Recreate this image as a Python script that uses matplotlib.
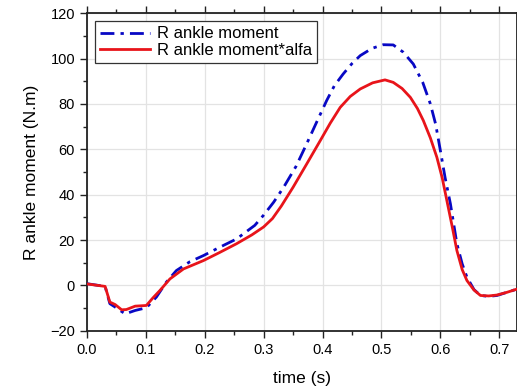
import numpy as np
import matplotlib
matplotlib.use("Agg")
import matplotlib.pyplot as plt
from matplotlib.ticker import MultipleLocator

plt.rcParams['font.family'] = ['Liberation Sans', 'DejaVu Sans']

# R ankle moment (blue dash-dot)
t_blue = [0.0, 0.031, 0.039, 0.048, 0.065, 0.082, 0.101, 0.118, 0.135, 0.152, 0.175,
          0.198, 0.225, 0.254, 0.285, 0.30, 0.317, 0.334, 0.355, 0.373, 0.39, 0.407, 0.42,
          0.435, 0.45, 0.464, 0.484, 0.503, 0.52, 0.537, 0.554, 0.57, 0.583, 0.592,
          0.6, 0.608, 0.617, 0.628, 0.637, 0.645, 0.657, 0.668, 0.682, 0.696, 0.713, 0.731]
m_blue = [0.8, -0.4, -8.0, -9.5, -12.5, -11.0, -9.8, -5.1, 1.5, 6.6, 10.5,
          13.2, 16.8, 20.5, 26.5, 31.0, 36.7, 43.3, 52.5, 62.4, 72.0, 81.5, 88.0,
          93.2, 97.8, 101.3, 104.5, 106.1, 106.0, 102.8, 97.6, 89.5, 80.0, 71.0,
          59.4, 47.5, 36.0, 18.4, 9.5, 3.7, -1.8, -4.4, -4.8, -4.4, -3.0, -1.5]

# R ankle moment*alfa (red solid)
t_red = [0.0, 0.031, 0.039, 0.048, 0.059, 0.067, 0.082, 0.101, 0.112, 0.124, 0.141,
         0.164, 0.198, 0.225, 0.254, 0.28, 0.30, 0.315, 0.33, 0.35, 0.373, 0.396,
         0.413, 0.43, 0.447, 0.464, 0.485, 0.506, 0.52, 0.535, 0.549, 0.561, 0.571,
         0.583, 0.594, 0.603, 0.611, 0.62, 0.628, 0.637, 0.645, 0.657, 0.668, 0.682,
         0.696, 0.713, 0.731]
m_red = [0.7, -0.4, -7.3, -8.4, -10.7, -10.6, -9.1, -8.8, -5.5, -2.2, 2.9,
         7.3, 11.0, 14.5, 18.4, 22.3, 25.8, 29.5, 35.0, 43.3, 53.5, 63.8,
         71.5, 78.5, 83.3, 86.6, 89.3, 90.6, 89.5, 86.8, 82.9, 78.0, 72.7,
         65.0, 56.5, 47.5, 37.4, 26.0, 15.4, 7.0, 2.2, -2.0, -4.4, -4.6,
         -4.2, -3.0, -1.5]

fig = plt.figure(figsize=(5.17, 3.87), dpi=100)
ax = fig.add_axes([0.168, 0.145, 0.832, 0.821])

ax.grid(True, color='#e3e3e3', linewidth=0.9, zorder=0)
ax.plot(t_blue, m_blue, color='#0808c4', linestyle=(0, (5, 2.2, 1.2, 2.2)),
        linewidth=2.0, label='R ankle moment', zorder=3)
ax.plot(t_red, m_red, color='#e8141a', linestyle='-', linewidth=2.0,
        label='R ankle moment*alfa', zorder=4)

ax.set_xlim(0, 0.73)
ax.set_ylim(-20, 120)
ax.xaxis.set_major_locator(MultipleLocator(0.1))
ax.xaxis.set_minor_locator(MultipleLocator(0.05))
ax.yaxis.set_major_locator(MultipleLocator(20))
ax.yaxis.set_minor_locator(MultipleLocator(10))
ax.set_xticklabels([f"{v:.1f}" for v in ax.get_xticks()])

ax.tick_params(which='both', direction='out', top=True, right=True,
               labelsize=10.5, width=1.0, color='#222222')
ax.tick_params(which='major', length=5)
ax.tick_params(which='minor', length=3)
for s in ax.spines.values():
    s.set_linewidth(1.3)
    s.set_color('#222222')

ax.set_xlabel('time (s)', fontsize=12.5, labelpad=10)
ax.set_ylabel('R ankle moment (N.m)', fontsize=12.5, labelpad=8)

leg = ax.legend(loc='upper left', fontsize=12, fancybox=False, framealpha=1,
                edgecolor='#333333', borderpad=0.3, handlelength=3.0,
                handletextpad=0.4, labelspacing=0.1, borderaxespad=0.5)
leg.get_frame().set_linewidth(0.9)

fig.savefig('out.png', dpi=100)
